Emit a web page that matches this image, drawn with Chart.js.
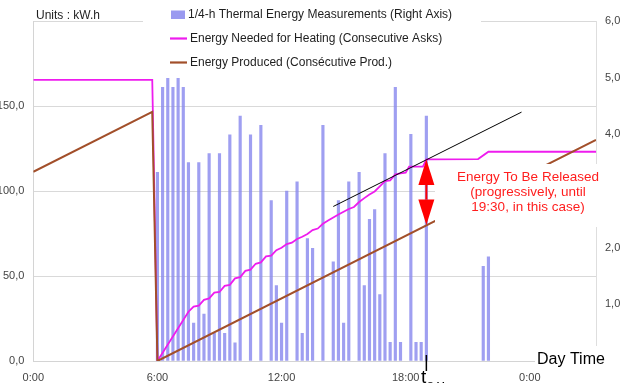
<!DOCTYPE html>
<html><head><meta charset="utf-8">
<script src="https://cdn.jsdelivr.net/npm/chart.js@4.4.1/dist/chart.umd.min.js"></script>
<style>html,body{margin:0;padding:0;background:#fff;overflow:hidden}#wrap{width:625px;height:383px;position:relative}</style>
</head><body><div id="wrap"><canvas id="c" width="625" height="383"></canvas></div>
<script>
// ---- DATA ----
const seriesLabels = [
  "1/4-h Thermal Energy Measurements (Right Axis)",
  "Energy Needed for Heating (Consecutive Asks)",
  "Energy Produced (Consécutive Prod.)"
];
const barTimes = ["6:00","6:15","6:30","6:45","7:00","7:15","7:30","7:45","8:00","8:15","8:30","8:45",
  "9:00","9:15","9:30","9:45","10:00","10:15","10:30","10:45","11:00","11:15","11:30","11:45",
  "12:00","12:15","12:30","12:45","13:00","13:15","13:30","13:45","14:00","14:15","14:30","14:45",
  "15:00","15:15","15:30","15:45","16:00","16:15","16:30","16:45","17:00","17:15","17:30","17:45",
  "18:00","18:15","18:30","18:45","19:00","21:45","22:00"];
const barValues = [3.33,4.83,4.99,4.83,4.99,4.83,3.50,0.67,3.50,0.83,3.66,0.49,
  3.66,0.49,3.99,0.32,4.32,null,3.99,null,4.16,null,2.83,1.33,
  0.67,3.00,null,3.16,0.49,2.16,1.99,null,4.16,null,1.75,2.83,
  0.67,3.16,null,3.33,1.33,2.50,2.67,1.17,3.66,0.33,4.83,0.33,
  null,4.00,0.33,0.33,4.32,1.67,1.84];
const needTimes = ["0:00","5:45","6:00","7:30","7:45","8:00","8:15","8:30","8:45","9:00","9:15","9:30","9:45",
  "10:00","10:15","10:30","10:45","11:00","11:15","11:30","11:45","12:00","12:15","12:30","12:45",
  "13:00","13:15","13:30","13:45","14:00","14:15","14:30","14:45","15:00","15:15","15:30","15:45",
  "16:00","16:15","16:30","16:45","17:00","17:15","17:30","17:45","18:00","18:10","18:50","19:00",
  "21:30","22:00","27:12"];
const needValues = [165.4,165.4,0,29.0,32.0,32.6,36.0,36.8,40.2,40.6,44.2,44.8,48.6,
  49.3,53.0,53.7,57.2,58.0,61.5,62.0,65.2,66.6,68.8,69.6,71.8,
  73.1,74.7,77.0,77.9,80.7,82.6,84.4,86.2,87.8,89.4,90.6,93.5,
  95.8,98.0,99.7,102.7,105.8,106.3,109.8,110.4,110.8,114.3,114.3,118.6,
  118.8,123.1,123.1];
const prodTimes = ["0:00","5:45","6:00","27:12"];
const prodValues = [111.3,146.5,0,130.0];
const tangentTimes = ["14:30","23:36"];
const tangentValues = [90.9,146.4];
const xTickValues = [0,6,12,18,24];
const xTickLabels = ["0:00","6:00","12:00","18:00","0:00"];
const arrowTime = "19:00";
const arrowTop = 118.6, arrowBottom = 80.0;
const noteLines = ["Energy To Be Released","(progressively, until","19:30, in this case)"];

// ---- helpers ----
const hrs = s => { const [h,m] = s.split(":").map(Number); return h + m/60; };
const pts = (t, v) => t.map((s,i) => ({x: hrs(s), y: v[i]}));
const comma = v => v.toFixed(1).replace(".", ",");
const FONT = '"Liberation Sans", Arial, sans-serif';

const BAR_COLOR = "rgba(135,135,238,0.8)";
const NEED_COLOR = "#ee1cee";
const PROD_COLOR = "#a24f2a";

const overlay = {
  id: "overlay",
  afterDraw(chart) {
    const c = chart.ctx, xs = chart.scales.x, ys = chart.scales.y;
    c.save();
    // legend
    c.fillStyle = "#fff"; c.fillRect(143, 0, 338, 74);
    c.font = "12px " + FONT; c.textBaseline = "middle"; c.textAlign = "left";
    const rows = [15, 38.5, 62.5];
    c.fillStyle = "#9a9af0"; c.fillRect(171, 10.5, 14, 8.5);
    c.lineWidth = 2.2;
    c.strokeStyle = NEED_COLOR; c.beginPath(); c.moveTo(170, rows[1]); c.lineTo(187, rows[1]); c.stroke();
    c.strokeStyle = PROD_COLOR; c.beginPath(); c.moveTo(170, rows[2]); c.lineTo(187, rows[2]); c.stroke();
    c.fillStyle = "#1e1e1e";
    c.fillText(seriesLabels[0], 188, rows[0]);
    c.fillText(seriesLabels[1], 190, rows[1]);
    c.fillText(seriesLabels[2], 190, rows[2]);
    // units
    c.fillText("Units : kW.h", 36, 16);
    // note box
    c.fillStyle = "#fff"; c.fillRect(435, 164, 190, 63);
    c.fillStyle = "#ff1e1e"; c.font = "13.5px " + FONT; c.textAlign = "center";
    noteLines.forEach((t, i) => c.fillText(t, 528, 177 + i * 15));
    // red double arrow
    const ax = xs.getPixelForValue(hrs(arrowTime));
    const yt = ys.getPixelForValue(arrowTop), yb = ys.getPixelForValue(arrowBottom);
    const hh = 25.5, hw = 8;
    c.fillStyle = "#ff0000"; c.strokeStyle = "#ff0000"; c.lineWidth = 2;
    c.beginPath(); c.moveTo(ax, yt); c.lineTo(ax - hw, yt + hh); c.lineTo(ax + hw, yt + hh); c.closePath(); c.fill();
    c.beginPath(); c.moveTo(ax, yb); c.lineTo(ax - hw, yb - hh); c.lineTo(ax + hw, yb - hh); c.closePath(); c.fill();
    c.beginPath(); c.moveTo(ax, yt + hh); c.lineTo(ax, yb - hh); c.stroke();
    // Day Time
    c.fillStyle = "#fff"; c.fillRect(535, 346, 90, 26);
    c.fillStyle = "#000"; c.font = "16px " + FONT; c.textAlign = "left"; c.textBaseline = "middle";
    c.fillText("Day Time", 537, 360);
    // t_SM marker
    c.strokeStyle = "#000"; c.lineWidth = 1.5;
    c.beginPath(); c.moveTo(ax, 355); c.lineTo(ax, 371); c.stroke();
    c.textBaseline = "alphabetic";
    c.font = "19px " + FONT; c.fillText("t", 421, 383);
    c.font = "10px " + FONT; c.fillText("S M", 427, 390);
    c.restore();
  }
};

new Chart(document.getElementById("c"), {
  type: "line",
  data: {
    datasets: [
      { type: "bar", label: seriesLabels[0], data: pts(barTimes, barValues), yAxisID: "y2",
        backgroundColor: BAR_COLOR, barThickness: 2.5, order: 3 },
      { label: seriesLabels[1], data: pts(needTimes, needValues), yAxisID: "y",
        borderColor: NEED_COLOR, borderWidth: 1.8, pointRadius: 0, tension: 0, order: 2 },
      { label: seriesLabels[2], data: pts(prodTimes, prodValues), yAxisID: "y",
        borderColor: PROD_COLOR, borderWidth: 2, pointRadius: 0, tension: 0, order: 1 },
      { label: "tangent", data: pts(tangentTimes, tangentValues), yAxisID: "y",
        borderColor: "#000", borderWidth: 1, pointRadius: 0, order: 0 }
    ]
  },
  options: {
    responsive: false, animation: false, devicePixelRatio: 1,
    layout: { padding: { top: 21, left: 0, right: 0, bottom: 0 } },
    plugins: { legend: { display: false }, tooltip: { enabled: false } },
    scales: {
      x: {
        type: "linear", min: 0, max: 27.2, offset: false,
        grid: { display: false, drawTicks: false },
        border: { display: true, color: "#d4d4d4" },
        afterBuildTicks: s => { s.ticks = xTickValues.map(v => ({ value: v })); },
        ticks: { padding: 10, color: "#444", font: { family: FONT, size: 11 }, maxRotation: 0,
          autoSkip: false, callback: (v, i) => xTickLabels[i] },
        afterFit: s => { s.height = 22; }
      },
      y: {
        position: "left", min: 0, max: 200,
        grid: { color: "#d9d9d9", drawTicks: false },
        border: { color: "#d4d4d4" },
        ticks: { stepSize: 50, padding: 9, color: "#444", font: { family: FONT, size: 11 },
          callback: v => v >= 200 ? "" : comma(v) },
        afterFit: s => { s.width = 33.3; }
      },
      y2: {
        position: "right", min: 0, max: 6,
        grid: { drawOnChartArea: false, drawTicks: false },
        border: { color: "#dedede" },
        ticks: { stepSize: 1, padding: 9, color: "#444", font: { family: FONT, size: 11 },
          callback: v => comma(v) },
        afterFit: s => { s.width = 29; }
      }
    }
  },
  plugins: [overlay]
});
</script></body></html>
